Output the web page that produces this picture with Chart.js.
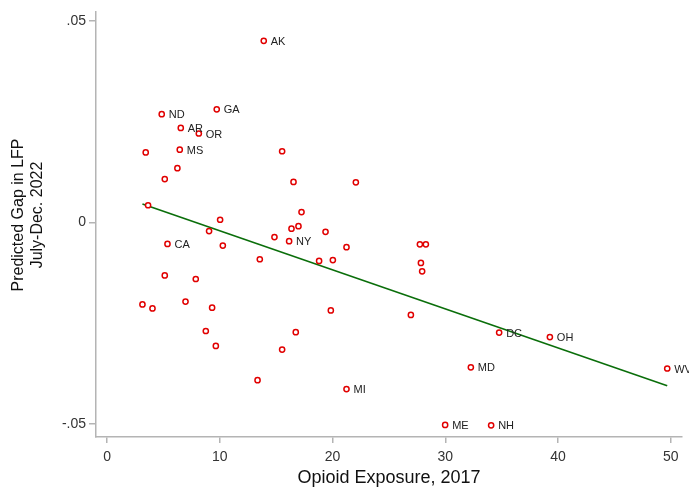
<!DOCTYPE html>
<html>
<head>
<meta charset="utf-8">
<script src="https://cdn.jsdelivr.net/npm/chart.js@4.4.0/dist/chart.umd.min.js"></script>
<style>
  html, body { margin: 0; padding: 0; background: #fff; }
  #wrap { width: 689px; height: 487px; }
</style>
</head>
<body>
<div id="wrap"><canvas id="myChart" width="689" height="487"></canvas></div>
<script>
// state-level values
const stateX = [13.9, 9.73, 4.85, 6.54, 8.14, 6.45, 3.43, 15.53, 6.24, 5.12,
  16.54, 22.07, 3.64, 17.25, 10.03, 16.98, 16.36, 9.05, 19.38, 14.85,
  16.15, 5.36, 10.27, 21.24, 27.75, 28.28, 13.55, 18.81, 20.03, 27.84,
  27.95, 5.12, 7.87, 3.14, 4.03, 6.96, 9.32, 19.85, 26.95, 8.76,
  16.74, 34.78, 39.28, 9.65, 15.53, 32.27, 49.69, 13.35, 21.24, 29.99, 34.07];
const stateY = [0.0451, 0.0281, 0.0269, 0.0235, 0.0221, 0.0181, 0.0174, 0.0177, 0.0135, 0.0108,
  0.0101, 0.0100, 0.0043, 0.0026, 0.0007, -0.0009, -0.0015, -0.0021, -0.0023, -0.0036,
  -0.0046, -0.0053, -0.0057, -0.0061, -0.0054, -0.0054, -0.0091, -0.0095, -0.0093, -0.0100,
  -0.0121, -0.0131, -0.0140, -0.0203, -0.0213, -0.0196, -0.0211, -0.0218, -0.0229, -0.0269,
  -0.0272, -0.0273, -0.0284, -0.0306, -0.0315, -0.0359, -0.0362, -0.0391, -0.0413, -0.0502, -0.0503];
const stateLabels = ['AK', 'GA', 'ND', 'AR', 'OR', 'MS', '', '', '', '',
  '', '', '', '', '', '', '', '', '', '',
  'NY', 'CA', '', '', '', '', '', '', '', '',
  '', '', '', '', '', '', '', '', '', '',
  '', 'DC', 'OH', '', '', 'MD', 'WV', '', 'MI', 'ME', 'NH'];

// fitted line end points
const fitX = [3.14, 49.69];
const fitY = [0.0046, -0.0405];

const xTicks = [0, 10, 20, 30, 40, 50];
const yTicks = [-0.05, 0, 0.05];

const yTitle = ['Predicted Gap in LFP', 'July-Dec. 2022'];

const FONT = "'Liberation Sans', Arial, sans-serif";
const axisGray = '#b4b4b4';

const pointLabels = {
  id: 'pointLabels',
  afterDatasetsDraw(chart) {
    const meta = chart.getDatasetMeta(0);
    const ctx = chart.ctx;
    ctx.save();
    ctx.font = '11px ' + FONT;
    ctx.fillStyle = '#222';
    ctx.textAlign = 'left';
    ctx.textBaseline = 'middle';
    meta.data.forEach((pt, i) => {
      if (stateLabels[i]) ctx.fillText(stateLabels[i], pt.x + 7, pt.y + 1);
    });
    ctx.restore();
  }
};

// y title drawn by hand: Stata puts it a bit above the plot centre
const yTitlePlugin = {
  id: 'yTitlePlugin',
  afterDraw(chart) {
    const ctx = chart.ctx;
    ctx.save();
    ctx.translate(0, 215);
    ctx.rotate(-Math.PI / 2);
    ctx.font = '16px ' + FONT;
    ctx.fillStyle = '#111';
    ctx.textAlign = 'center';
    ctx.textBaseline = 'middle';
    ctx.fillText(yTitle[0], 0, 18.5);
    ctx.fillText(yTitle[1], 0, 37.5);
    ctx.restore();
  }
};

const ctx = document.getElementById('myChart').getContext('2d');
const myChart = new Chart(ctx, {
  type: 'scatter',
  data: {
    datasets: [
      {
        label: 'States',
        data: stateX.map((x, i) => ({ x: x, y: stateY[i] })),
        pointStyle: 'circle',
        pointRadius: 2.6,
        pointBorderWidth: 1.5,
        pointBorderColor: 'rgb(225, 0, 0)',
        pointBackgroundColor: '#fff',
        order: 1
      },
      {
        type: 'line',
        label: 'Fit',
        data: fitX.map((x, i) => ({ x: x, y: fitY[i] })),
        borderColor: 'rgb(10, 110, 10)',
        borderWidth: 1.6,
        pointRadius: 0,
        fill: false,
        order: 2
      }
    ]
  },
  plugins: [pointLabels, yTitlePlugin],
  options: {
    responsive: false,
    animation: false,
    layout: { padding: { left: 0, top: 11, right: 7, bottom: 0 } },
    plugins: {
      legend: { display: false },
      tooltip: { enabled: false }
    },
    scales: {
      x: {
        type: 'linear',
        min: -0.98,
        max: 51.0,
        afterBuildTicks: (scale) => { scale.ticks = xTicks.map(v => ({ value: v })); },
        afterFit: (scale) => { scale.height = 50; },
        grid: { drawOnChartArea: false, tickLength: 6, color: axisGray, lineWidth: 1.5 },
        border: { color: axisGray, width: 1.5 },
        ticks: { color: '#333', font: { family: FONT, size: 14 }, padding: 6, maxRotation: 0 },
        title: {
          display: true,
          text: 'Opioid Exposure, 2017',
          color: '#111',
          font: { family: FONT, size: 18, lineHeight: 1 },
          padding: { top: 0, bottom: 0 }
        }
      },
      y: {
        type: 'linear',
        min: -0.0532,
        max: 0.0524,
        afterBuildTicks: (scale) => { scale.ticks = yTicks.map(v => ({ value: v })); },
        afterFit: (scale) => { scale.width = 96; },
        grid: { drawOnChartArea: false, tickLength: 7, color: axisGray, lineWidth: 1.5 },
        border: { color: axisGray, width: 1.5 },
        ticks: {
          color: '#333',
          font: { family: FONT, size: 14 },
          padding: 3,
          callback: (v) => v === 0 ? '0' : (v < 0 ? '-' : '') + String(Math.abs(v)).replace(/^0/, '')
        }
      }
    }
  }
});
</script>
</body>
</html>
